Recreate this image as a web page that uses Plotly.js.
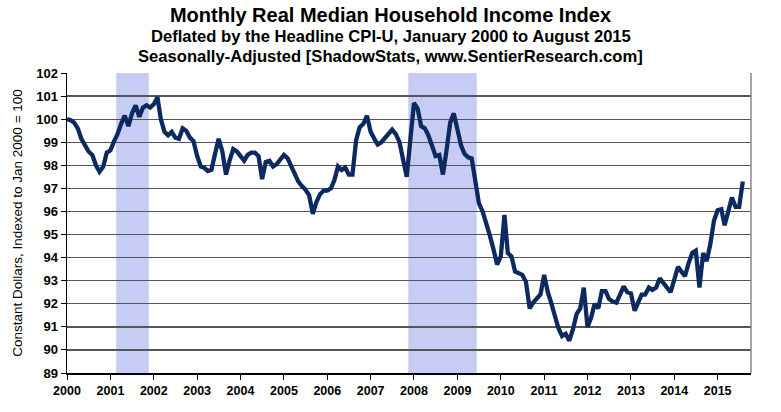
<!DOCTYPE html>
<html>
<head>
<meta charset="utf-8">
<script src="https://cdn.plot.ly/plotly-3.0.1.min.js"></script>
<style>html,body{margin:0;padding:0;background:#fff}#chart{width:781px;height:412px}</style>
</head>
<body>
<div id="chart"></div>
<script>
// Monthly index values, Jan 2000 = 100
const v2000 = [100.0, 99.95, 99.85, 99.6, 99.15, 98.85, 98.6, 98.45, 98.0, 97.72, 97.94, 98.55];
const v2001 = [98.65, 99.05, 99.35, 99.8, 100.15, 99.7, 100.25, 100.6, 100.1, 100.5, 100.6, 100.5];
const v2002 = [100.65, 100.95, 100.0, 99.45, 99.3, 99.45, 99.2, 99.15, 99.6, 99.5, 99.2, 99.05];
const v2003 = [98.4, 97.95, 97.9, 97.75, 97.8, 98.5, 99.15, 98.6, 97.6, 98.2, 98.7, 98.6];
const v2004 = [98.4, 98.2, 98.45, 98.55, 98.55, 98.4, 97.4, 98.15, 98.2, 97.95, 98.05, 98.25];
const v2005 = [98.45, 98.3, 98.0, 97.65, 97.3, 97.1, 96.95, 96.7, 95.9, 96.4, 96.75, 96.9];
const v2006 = [96.9, 97.0, 97.35, 97.95, 97.8, 97.9, 97.6, 97.6, 99.1, 99.65, 99.8, 100.15];
const v2007 = [99.45, 99.15, 98.9, 99.0, 99.2, 99.35, 99.55, 99.35, 99.0, 98.25, 97.5, 99.1];
const v2008 = [100.7, 100.45, 99.7, 99.6, 99.3, 98.85, 98.4, 98.45, 97.6, 98.65, 99.85, 100.25];
const v2009 = [99.5, 98.85, 98.5, 98.35, 98.3, 97.25, 96.35, 96.0, 95.5, 94.95, 94.35, 93.7];
const v2010 = [94.05, 95.85, 94.2, 94.05, 93.4, 93.3, 93.25, 92.95, 91.8, 92.05, 92.25, 92.4];
const v2011 = [93.25, 92.5, 92.05, 91.5, 90.95, 90.6, 90.7, 90.4, 90.9, 91.55, 91.8, 92.7];
const v2012 = [91.0, 91.4, 92.0, 91.8, 92.55, 92.55, 92.2, 92.1, 92.05, 92.4, 92.75, 92.5];
const v2013 = [92.45, 91.7, 92.0, 92.4, 92.4, 92.7, 92.6, 92.7, 93.1, 92.9, 92.7, 92.5];
const v2014 = [93.05, 93.6, 93.4, 93.2, 93.75, 94.2, 94.3, 92.7, 94.2, 93.85, 94.6, 95.6];
const v2015 = [96.05, 96.1, 95.4, 96.05, 96.6, 96.2, 96.2, 97.3];

const startYear = 2000;
const yearTickLabels = ["2000","2001","2002","2003","2004","2005","2006","2007","2008","2009","2010","2011","2012","2013","2014","2015"];
const yTickValues = [89,90,91,92,93,94,95,96,97,98,99,100,101,102];

// Recession periods (shaded)
const recessionStart = ["2001-02-18", "2007-11-14"];
const recessionEnd   = ["2001-11-20", "2009-06-12"];

const values = [].concat(v2000, v2001, v2002, v2003, v2004, v2005, v2006, v2007,
                         v2008, v2009, v2010, v2011, v2012, v2013, v2014, v2015);
const dates = values.map((_, i) => {
  const y = startYear + Math.floor(i / 12);
  const m = (i % 12) + 1;
  return y + "-" + String(m).padStart(2, "0") + "-01";
});
const tickVals = yearTickLabels.map(t => t + "-01-01");

const FONT = "Liberation Sans, Arial, sans-serif";

const shapes = recessionStart.map((s, i) => ({
  type: "rect", xref: "x", yref: "paper", x0: s, x1: recessionEnd[i], y0: 0, y1: 1,
  fillcolor: "rgb(198,204,244)", line: {width: 0}, layer: "between"
}));
shapes.push({type: "line", xref: "paper", yref: "paper", x0: 1, x1: 1, y0: 0, y1: 1,
  line: {color: "#888", width: 1.5}});

const trace = {
  x: dates, y: values, type: "scatter", mode: "lines",
  line: {color: "#0d2a60", width: 4.3, shape: "linear"},
  hoverinfo: "skip"
};

const layout = {
  width: 781, height: 412,
  margin: {l: 67, r: 30, t: 73, b: 39},
  paper_bgcolor: "#fff", plot_bgcolor: "#fff",
  showlegend: false,
  font: {family: FONT, color: "#000"},
  title: {text: "<b>Monthly Real Median Household Income Index</b>",
          font: {family: FONT, size: 20, color: "#000"},
          x: 0.5, xref: "container", xanchor: "center", y: 1 - 15/412, yref: "container", yanchor: "middle"},
  annotations: [
    {text: "<b>Deflated by the Headline CPI-U, January 2000 to August 2015</b>",
     xref: "paper", yref: "paper", x: 0.473, y: 1 + 37/300, xanchor: "center", yanchor: "middle",
     showarrow: false, font: {family: FONT, size: 16.6, color: "#000"}},
    {text: "<b>Seasonally-Adjusted [ShadowStats, www.SentierResearch.com]</b>",
     xref: "paper", yref: "paper", x: 0.473, y: 1 + 17/300, xanchor: "center", yanchor: "middle",
     showarrow: false, font: {family: FONT, size: 16.6, color: "#000"}}
  ],
  xaxis: {
    type: "date",
    range: ["2000-01-01", "2015-10-09"],
    tickmode: "array", tickvals: tickVals, ticktext: yearTickLabels,
    ticks: "outside", ticklen: 5, tickcolor: "#000", tickwidth: 1,
    showgrid: false, zeroline: false,
    showline: true, linecolor: "#000", linewidth: 1.5,
    tickfont: {family: FONT, size: 12.5, color: "#000", weight: "bold"},
    fixedrange: true
  },
  yaxis: {
    range: [89, 102],
    tickmode: "array", tickvals: yTickValues,
    ticks: "outside", ticklen: 5, tickcolor: "#000", tickwidth: 1,
    showgrid: true, gridcolor: "#555", gridwidth: 1.3,
    zeroline: false,
    showline: true, linecolor: "#000", linewidth: 1.5,
    tickfont: {family: FONT, size: 13, color: "#000", weight: "bold"},
    title: {text: "Constant Dollars, Indexed to Jan 2000 = 100",
            font: {family: FONT, size: 13.5, color: "#000"}, standoff: 10},
    fixedrange: true
  },
  shapes: shapes
};

Plotly.newPlot("chart", [trace], layout, {staticPlot: true, displayModeBar: false});
</script>
</body>
</html>
